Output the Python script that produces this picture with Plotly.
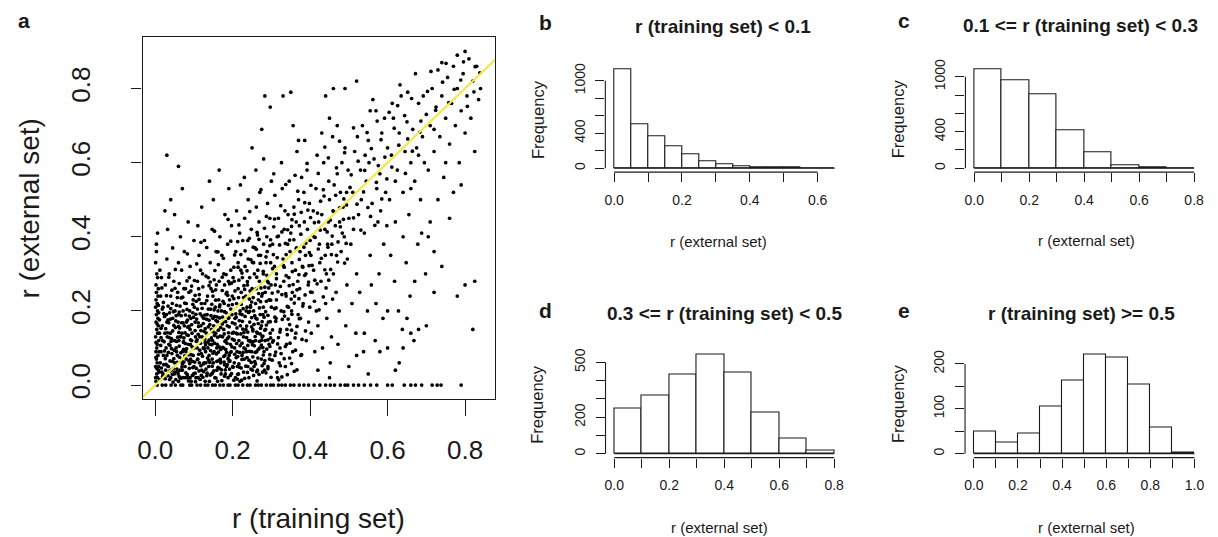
import plotly.graph_objects as go

# ---------------- data ----------------
# panel a: r(training) vs r(external), by region
pts_col0 = [(0.002,0.01),(0.004,0.03),(0.001,0.05),(0.006,0.02),(0.003,0.07),(0.008,0.04),(0.002,0.09),(0.005,0.11),
            (0.001,0.13),(0.007,0.08),(0.004,0.15),(0.002,0.17),(0.009,0.12),(0.003,0.19),(0.006,0.14),(0.001,0.21),
            (0.005,0.06),(0.008,0.16),(0.002,0.23),(0.004,0.10),(0.007,0.18),(0.003,0.25),(0.001,0.02),(0.006,0.20),
            (0.009,0.05),(0.002,0.27),(0.005,0.22),(0.004,0.30),(0.008,0.26),(0.001,0.33),(0.006,0.29),(0.003,0.36),
            (0.007,0.24),(0.010,0.09),(0.002,0.115),(0.005,0.165),(0.011,0.14),(0.004,0.045),(0.009,0.195),(0.003,0.38),
            (0.012,0.31),(0.006,0.41),(0.002,0.075),(0.010,0.035),(0.008,0.215)]
pts_row0 = [(0.005,0.0),(0.018,0.0),(0.027,0.0),(0.041,0.0),(0.052,0.0),(0.066,0.0),(0.071,0.0),(0.089,0.0),(0.094,0.0),
            (0.108,0.0),(0.117,0.0),(0.129,0.0),(0.136,0.0),(0.148,0.0),(0.155,0.0),(0.167,0.0),(0.176,0.0),(0.188,0.0),
            (0.193,0.0),(0.207,0.0),(0.214,0.0),(0.226,0.0),(0.238,0.0),(0.245,0.0),(0.259,0.0),(0.266,0.0),(0.274,0.0),
            (0.287,0.0),(0.298,0.0),(0.305,0.0),(0.318,0.0),(0.327,0.0),(0.336,0.0),(0.349,0.0),(0.358,0.0),(0.372,0.0),
            (0.384,0.0),(0.396,0.0),(0.41,0.0),(0.425,0.0),(0.44,0.0),(0.452,0.0),(0.463,0.0),(0.478,0.0),(0.49,0.0),
            (0.497,0.0),(0.512,0.0),(0.525,0.0),(0.54,0.0),(0.556,0.0),(0.572,0.0),(0.6,0.0),(0.612,0.0),(0.643,0.0),
            (0.66,0.0),(0.672,0.0),(0.688,0.0),(0.715,0.0),(0.728,0.0),(0.738,0.0),(0.79,0.0)]
pts_x00 = [(0.02,0.03),(0.03,0.08),(0.025,0.14),(0.04,0.02),(0.035,0.11),(0.05,0.06),(0.045,0.18),(0.06,0.01),(0.055,0.09),
           (0.07,0.04),(0.065,0.13),(0.08,0.07),(0.075,0.16),(0.09,0.02),(0.085,0.11),(0.1,0.05),(0.095,0.14),(0.02,0.21),
           (0.03,0.17),(0.04,0.24),(0.05,0.12),(0.06,0.19),(0.07,0.09),(0.08,0.22),(0.09,0.15),(0.1,0.1),(0.022,0.055),
           (0.033,0.025),(0.047,0.045),(0.058,0.035),(0.068,0.065),(0.078,0.02),(0.088,0.045),(0.098,0.08),(0.028,0.1),
           (0.038,0.065),(0.052,0.155),(0.062,0.105),(0.072,0.2),(0.082,0.135),(0.092,0.18),(0.026,0.27),(0.036,0.3),
           (0.048,0.28),(0.058,0.25),(0.068,0.31),(0.078,0.26),(0.088,0.29),(0.098,0.23),(0.03,0.34),(0.045,0.37),
           (0.06,0.33),(0.075,0.36),(0.09,0.32),(0.032,0.42),(0.05,0.46),(0.065,0.4),(0.04,0.5),(0.07,0.53),(0.025,0.47),
           (0.085,0.44),(0.06,0.59),(0.03,0.62),(0.1,0.39),(0.055,0.215),(0.083,0.175),(0.043,0.085),(0.073,0.115),
           (0.093,0.01),(0.018,0.16),(0.015,0.09),(0.017,0.035),(0.014,0.24),(0.016,0.29),(0.053,0.015),(0.063,0.075),
           (0.087,0.065),(0.097,0.195),(0.037,0.195),(0.067,0.235),(0.077,0.05),(0.042,0.125),(0.024,0.185)]
pts_x10 = [(0.105,0.02),(0.11,0.07),(0.115,0.13),(0.12,0.04),(0.125,0.18),(0.13,0.09),(0.135,0.24),(0.14,0.01),(0.145,0.15),
           (0.15,0.06),(0.155,0.21),(0.16,0.11),(0.165,0.28),(0.17,0.03),(0.175,0.17),(0.18,0.08),(0.185,0.25),(0.19,0.13),
           (0.195,0.31),(0.2,0.05),(0.108,0.1),(0.118,0.16),(0.128,0.22),(0.138,0.05),(0.148,0.12),(0.158,0.27),(0.168,0.07),
           (0.178,0.22),(0.188,0.02),(0.198,0.19),(0.112,0.26),(0.122,0.3),(0.132,0.14),(0.142,0.33),(0.152,0.09),(0.162,0.2),
           (0.172,0.35),(0.182,0.12),(0.192,0.23),(0.103,0.17),(0.113,0.35),(0.127,0.39),(0.137,0.29),(0.147,0.42),
           (0.157,0.36),(0.167,0.4),(0.177,0.3),(0.187,0.38),(0.197,0.43),(0.12,0.48),(0.15,0.5),(0.18,0.46),(0.14,0.55),
           (0.11,0.43),(0.19,0.53),(0.165,0.58),(0.106,0.045),(0.116,0.015),(0.126,0.06),(0.136,0.1),(0.146,0.03),
           (0.156,0.14),(0.166,0.045),(0.176,0.1),(0.186,0.16),(0.196,0.09),(0.109,0.205),(0.119,0.085),(0.129,0.115),
           (0.139,0.175),(0.149,0.24),(0.159,0.04),(0.169,0.155),(0.179,0.055),(0.189,0.28),(0.199,0.14),(0.133,0.025),
           (0.153,0.185),(0.173,0.255),(0.193,0.065),(0.123,0.265),(0.143,0.205),(0.163,0.325),(0.183,0.195)]
pts_x20 = [(0.205,0.1),(0.21,0.22),(0.215,0.03),(0.22,0.16),(0.225,0.29),(0.23,0.07),(0.235,0.2),(0.24,0.34),(0.245,0.12),
           (0.25,0.26),(0.255,0.05),(0.26,0.18),(0.265,0.31),(0.27,0.1),(0.275,0.24),(0.28,0.38),(0.285,0.15),(0.29,0.28),
           (0.295,0.07),(0.3,0.21),(0.208,0.36),(0.218,0.41),(0.228,0.13),(0.238,0.27),(0.248,0.42),(0.258,0.37),
           (0.268,0.44),(0.278,0.19),(0.288,0.4),(0.298,0.33),(0.212,0.05),(0.222,0.25),(0.232,0.32),(0.242,0.02),
           (0.252,0.15),(0.262,0.09),(0.272,0.35),(0.282,0.04),(0.292,0.17),(0.206,0.18),(0.216,0.12),(0.226,0.39),
           (0.236,0.09),(0.246,0.21),(0.256,0.3),(0.266,0.23),(0.276,0.13),(0.286,0.33),(0.296,0.45),(0.21,0.47),
           (0.24,0.5),(0.27,0.52),(0.23,0.56),(0.26,0.58),(0.29,0.49),(0.25,0.64),(0.28,0.61),(0.22,0.54),(0.3,0.55),
           (0.275,0.69),(0.283,0.78),(0.297,0.75),(0.204,0.28),(0.214,0.33),(0.224,0.08),(0.234,0.15),(0.244,0.29),
           (0.254,0.2),(0.264,0.04),(0.274,0.16),(0.284,0.25),(0.294,0.11),(0.219,0.2),(0.239,0.39),(0.259,0.12),
           (0.279,0.3),(0.299,0.27),(0.231,0.45),(0.261,0.48)]
pts_x30 = [(0.305,0.12),(0.31,0.27),(0.315,0.4),(0.32,0.06),(0.325,0.2),(0.33,0.34),(0.335,0.47),(0.34,0.15),(0.345,0.29),
           (0.35,0.41),(0.355,0.09),(0.36,0.24),(0.365,0.37),(0.37,0.5),(0.375,0.18),(0.38,0.32),(0.385,0.44),(0.39,0.12),
           (0.395,0.27),(0.4,0.39),(0.308,0.32),(0.318,0.45),(0.328,0.53),(0.338,0.24),(0.348,0.36),(0.358,0.48),
           (0.368,0.28),(0.378,0.56),(0.388,0.35),(0.398,0.49),(0.312,0.18),(0.322,0.1),(0.332,0.28),(0.342,0.38),
           (0.352,0.2),(0.362,0.31),(0.372,0.43),(0.382,0.22),(0.392,0.58),(0.306,0.57),(0.326,0.6),(0.346,0.55),
           (0.366,0.63),(0.386,0.66),(0.356,0.7),(0.336,0.05),(0.376,0.08),(0.396,0.17),(0.316,0.02),(0.35,0.79),
           (0.33,0.78),(0.37,0.66),(0.384,0.52),(0.303,0.38),(0.343,0.46),(0.363,0.14),(0.393,0.42),(0.313,0.23),
           (0.353,0.33),(0.373,0.26)]
pts_x40 = [(0.405,0.25),(0.41,0.4),(0.415,0.53),(0.42,0.16),(0.425,0.33),(0.43,0.46),(0.435,0.6),(0.44,0.22),(0.445,0.38),
           (0.45,0.5),(0.455,0.13),(0.46,0.3),(0.465,0.43),(0.47,0.57),(0.475,0.2),(0.48,0.36),(0.485,0.48),(0.49,0.64),
           (0.495,0.27),(0.5,0.45),(0.408,0.47),(0.418,0.62),(0.428,0.28),(0.438,0.42),(0.448,0.55),(0.458,0.67),
           (0.468,0.35),(0.478,0.52),(0.488,0.4),(0.498,0.58),(0.412,0.09),(0.432,0.1),(0.452,0.06),(0.472,0.11),
           (0.492,0.16),(0.402,0.35),(0.422,0.44),(0.442,0.3),(0.462,0.54),(0.482,0.6),(0.45,0.72),(0.47,0.7),(0.43,0.68),
           (0.49,0.8),(0.44,0.78),(0.46,0.8),(0.416,0.2),(0.436,0.51),(0.456,0.38),(0.476,0.44),(0.496,0.34)]
pts_x50 = [(0.505,0.38),(0.51,0.52),(0.515,0.63),(0.52,0.3),(0.525,0.46),(0.53,0.58),(0.535,0.7),(0.54,0.41),(0.545,0.55),
           (0.55,0.66),(0.555,0.35),(0.56,0.49),(0.565,0.61),(0.57,0.74),(0.575,0.44),(0.58,0.57),(0.585,0.68),(0.59,0.38),
           (0.595,0.52),(0.6,0.64),(0.508,0.22),(0.518,0.14),(0.528,0.25),(0.538,0.09),(0.548,0.2),(0.558,0.27),
           (0.568,0.12),(0.578,0.3),(0.588,0.18),(0.598,0.43),(0.512,0.42),(0.532,0.5),(0.552,0.6),(0.572,0.53),
           (0.592,0.72),(0.522,0.67),(0.542,0.62),(0.562,0.77),(0.582,0.47),(0.52,0.82),(0.555,0.74)]
pts_x60 = [(0.605,0.5),(0.61,0.62),(0.615,0.72),(0.62,0.44),(0.625,0.58),(0.63,0.68),(0.635,0.78),(0.64,0.52),(0.645,0.63),
           (0.65,0.71),(0.655,0.46),(0.66,0.6),(0.665,0.69),(0.67,0.55),(0.675,0.64),(0.68,0.76),(0.685,0.5),(0.69,0.67),
           (0.695,0.6),(0.7,0.73),(0.608,0.35),(0.618,0.28),(0.628,0.2),(0.638,0.15),(0.648,0.33),(0.658,0.24),
           (0.668,0.12),(0.678,0.38),(0.688,0.41),(0.698,0.3),(0.612,0.76),(0.632,0.81),(0.652,0.79),(0.672,0.84),
           (0.692,0.78),(0.62,0.55),(0.64,0.4),(0.66,0.53),(0.68,0.62),(0.6,0.1),(0.63,0.06),(0.66,0.14)]
pts_x70 = [(0.705,0.58),(0.71,0.7),(0.715,0.8),(0.72,0.63),(0.725,0.75),(0.73,0.85),(0.735,0.67),(0.74,0.78),(0.745,0.56),
           (0.75,0.72),(0.755,0.83),(0.76,0.65),(0.765,0.76),(0.77,0.86),(0.775,0.7),(0.78,0.8),(0.785,0.6),(0.79,0.74),
           (0.795,0.84),(0.8,0.68),(0.805,0.78),(0.81,0.88),(0.815,0.72),(0.82,0.82),(0.825,0.63),(0.83,0.86),
           (0.835,0.77),(0.84,0.8),(0.71,0.44),(0.72,0.36),(0.74,0.32),(0.73,0.5),(0.76,0.45),(0.78,0.24),(0.8,0.27),
           (0.82,0.15),(0.825,0.28),(0.77,0.52),(0.79,0.54),(0.8,0.9),(0.78,0.89),(0.74,0.87),(0.75,0.6),(0.72,0.69),
           (0.705,0.4)]
pts_outliers = [(0.42,0.04),(0.45,0.02),(0.5,0.05),(0.55,0.03),(0.58,0.09),(0.62,0.04),(0.64,0.1),(0.54,0.14),(0.6,0.2),
                (0.65,0.18),(0.68,0.15),(0.7,0.16),(0.57,0.22),(0.67,0.28),(0.72,0.25),(0.52,0.08)]
pts_core = [(0.013,0.06),(0.019,0.12),(0.023,0.02),(0.029,0.19),(0.034,0.05),(0.039,0.14),(0.044,0.22),(0.049,0.03),
            (0.054,0.1),(0.059,0.17),(0.064,0.04),(0.069,0.14),(0.074,0.26),(0.079,0.09),(0.084,0.02),(0.089,0.2),
            (0.094,0.12),(0.099,0.03),(0.104,0.13),(0.109,0.28),(0.114,0.06),(0.119,0.22),(0.124,0.1),(0.129,0.01),
            (0.134,0.19),(0.139,0.08),(0.144,0.26),(0.149,0.18),(0.154,0.02),(0.159,0.1),(0.164,0.23),(0.169,0.06),
            (0.174,0.13),(0.179,0.27),(0.184,0.05),(0.189,0.18),(0.194,0.11),(0.199,0.24),(0.204,0.06),(0.209,0.14),
            (0.214,0.26),(0.219,0.01),(0.224,0.19),(0.229,0.1),(0.234,0.24),(0.239,0.05),(0.244,0.17),(0.249,0.09),
            (0.254,0.33),(0.259,0.22),(0.264,0.14),(0.269,0.28),(0.274,0.07),(0.279,0.21),(0.284,0.12),(0.289,0.36),
            (0.294,0.23),(0.021,0.08),(0.031,0.13),(0.041,0.04),(0.051,0.2),(0.061,0.12),(0.071,0.02),(0.081,0.17),
            (0.091,0.07),(0.101,0.21),(0.111,0.02),(0.121,0.13),(0.131,0.06),(0.141,0.11),(0.151,0.16),(0.161,0.01),
            (0.171,0.2),(0.181,0.03),(0.191,0.08),(0.201,0.29),(0.211,0.09),(0.221,0.31),(0.241,0.12),(0.251,0.04),
            (0.261,0.26),(0.271,0.19),(0.281,0.09),(0.291,0.05),(0.027,0.04),(0.057,0.08),(0.087,0.25),(0.117,0.31),
            (0.147,0.07),(0.177,0.15),(0.207,0.02),(0.237,0.21),(0.267,0.35),(0.297,0.14),(0.313,0.3),(0.323,0.15),
            (0.333,0.42),(0.344,0.21),(0.354,0.25),(0.364,0.44),(0.374,0.36),(0.389,0.3),(0.399,0.21),(0.409,0.31),
            (0.424,0.38),(0.439,0.35),(0.447,0.44),(0.459,0.47),(0.467,0.25),(0.483,0.41),(0.494,0.52),(0.309,0.08),
            (0.339,0.11),(0.369,0.19),(0.403,0.14),(0.443,0.18)]
pts_band_a = [(0.012,0.015),(0.031,0.052),(0.046,0.008),(0.057,0.061),(0.083,0.028),(0.097,0.047),(0.112,0.083),
              (0.123,0.021),(0.138,0.067),(0.151,0.038),(0.163,0.089),(0.172,0.012),(0.186,0.055),(0.197,0.031),
              (0.209,0.074),(0.222,0.046),(0.231,0.018),(0.243,0.091),(0.257,0.063),(0.268,0.029),(0.279,0.081),
              (0.291,0.044),(0.302,0.067),(0.314,0.035),(0.026,0.071),(0.038,0.038),(0.062,0.023),(0.076,0.079),
              (0.089,0.058),(0.104,0.009),(0.118,0.052),(0.131,0.043),(0.143,0.093),(0.157,0.019),(0.169,0.063),
              (0.181,0.041),(0.193,0.087),(0.203,0.013),(0.216,0.057),(0.227,0.088),(0.238,0.034),(0.252,0.076),
              (0.263,0.011),(0.276,0.052),(0.288,0.097),(0.299,0.021),(0.311,0.089),(0.323,0.052),(0.016,0.046),
              (0.049,0.094),(0.069,0.049),(0.093,0.082),(0.127,0.098),(0.147,0.051),(0.177,0.077),(0.213,0.029),
              (0.247,0.043),(0.283,0.066),(0.319,0.014),(0.034,0.088),(0.059,0.03),(0.086,0.011),(0.109,0.069),
              (0.134,0.032),(0.162,0.048),(0.191,0.064),(0.224,0.069),(0.254,0.026),(0.286,0.033),(0.333,0.071),
              (0.341,0.028),(0.352,0.058),(0.366,0.041),(0.378,0.082)]
pts_band_b = [(0.014,0.107),(0.027,0.152),(0.041,0.118),(0.053,0.173),(0.066,0.131),(0.078,0.189),(0.091,0.109),
              (0.103,0.147),(0.116,0.192),(0.128,0.124),(0.141,0.163),(0.153,0.113),(0.166,0.181),(0.178,0.138),
              (0.191,0.157),(0.204,0.121),(0.217,0.174),(0.229,0.142),(0.241,0.196),(0.253,0.117),(0.266,0.166),
              (0.278,0.132),(0.291,0.188),(0.303,0.149),(0.316,0.111),(0.328,0.177),(0.341,0.136),(0.353,0.191),
              (0.366,0.158),(0.379,0.123),(0.022,0.193),(0.036,0.128),(0.048,0.161),(0.061,0.142),(0.073,0.117),
              (0.087,0.158),(0.099,0.183),(0.111,0.137),(0.124,0.166),(0.136,0.116),(0.149,0.144),(0.161,0.171),
              (0.174,0.102),(0.187,0.126),(0.199,0.168),(0.212,0.138),(0.224,0.113),(0.236,0.159),(0.249,0.182),
              (0.262,0.143),(0.274,0.108),(0.287,0.162),(0.298,0.127),(0.311,0.172),(0.322,0.143),(0.336,0.104),
              (0.347,0.163),(0.361,0.127),(0.372,0.179),(0.388,0.146),(0.033,0.176),(0.068,0.168),(0.106,0.118),
              (0.144,0.187),(0.182,0.171),(0.219,0.192),(0.258,0.131),(0.296,0.104),(0.334,0.186),(0.058,0.129)]
pts_band_c = [(0.021,0.223),(0.043,0.256),(0.064,0.213),(0.082,0.281),(0.103,0.242),(0.121,0.207),(0.139,0.268),
              (0.156,0.229),(0.173,0.291),(0.189,0.215),(0.206,0.254),(0.222,0.218),(0.238,0.279),(0.253,0.236),
              (0.269,0.208),(0.283,0.264),(0.298,0.229),(0.313,0.287),(0.327,0.244),(0.341,0.212),(0.356,0.271),
              (0.371,0.233),(0.386,0.296),(0.401,0.251),(0.418,0.273),(0.434,0.238),(0.448,0.283),(0.035,0.291),
              (0.057,0.236),(0.076,0.221),(0.094,0.267),(0.113,0.231),(0.131,0.294),(0.148,0.253),(0.166,0.211),
              (0.183,0.246),(0.199,0.217),(0.216,0.283),(0.231,0.258),(0.246,0.214),(0.262,0.291),(0.277,0.247),
              (0.292,0.276),(0.308,0.206),(0.323,0.266),(0.338,0.295),(0.351,0.232),(0.366,0.257),(0.381,0.213),
              (0.396,0.278),(0.411,0.226),(0.152,0.284),(0.192,0.273),(0.228,0.236),(0.272,0.225)]
pts_band_d = [(0.052,0.312),(0.083,0.354),(0.107,0.327),(0.133,0.371),(0.154,0.309),(0.176,0.342),(0.195,0.388),
              (0.214,0.318),(0.232,0.362),(0.251,0.331),(0.268,0.393),(0.286,0.346),(0.303,0.314),(0.321,0.378),
              (0.338,0.352),(0.354,0.306),(0.372,0.339),(0.389,0.383),(0.405,0.323),(0.421,0.367),(0.438,0.311),
              (0.455,0.352),(0.472,0.386),(0.489,0.329),(0.118,0.385),(0.162,0.359),(0.205,0.351),(0.243,0.396),
              (0.279,0.307),(0.315,0.344),(0.347,0.391),(0.381,0.318),(0.413,0.398),(0.446,0.372),(0.224,0.302),
              (0.261,0.366),(0.296,0.376),(0.331,0.322),(0.364,0.368),(0.398,0.357)]
pts_band_e = [(0.153,0.415),(0.188,0.447),(0.216,0.432),(0.244,0.468),(0.263,0.412),(0.287,0.455),(0.306,0.427),
              (0.324,0.484),(0.342,0.419),(0.359,0.461),(0.376,0.407),(0.394,0.472),(0.411,0.438),(0.427,0.496),
              (0.444,0.413),(0.461,0.468),(0.478,0.427),(0.494,0.486),(0.512,0.451),(0.531,0.418),(0.549,0.479),
              (0.567,0.431),(0.585,0.502),(0.273,0.527),(0.309,0.512),(0.337,0.541),(0.368,0.523),(0.402,0.539),
              (0.434,0.527),(0.466,0.512),(0.503,0.533),(0.538,0.521),(0.571,0.547),(0.353,0.446),(0.386,0.492),
              (0.419,0.464),(0.452,0.445),(0.487,0.502),(0.521,0.488),(0.556,0.455)]
pts_band_f = [(0.361,0.566),(0.392,0.598),(0.421,0.571),(0.447,0.613),(0.468,0.586),(0.489,0.627),(0.506,0.567),
              (0.524,0.604),(0.541,0.579),(0.558,0.638),(0.576,0.592),(0.593,0.615),(0.611,0.588),(0.629,0.647),
              (0.646,0.571),(0.664,0.631),(0.683,0.682),(0.476,0.658),(0.512,0.694),(0.547,0.681),(0.583,0.662),
              (0.617,0.693),(0.652,0.664),(0.438,0.642),(0.598,0.556)]
pts_band_g = [(0.573,0.712),(0.604,0.736),(0.626,0.754),(0.644,0.727),(0.662,0.773),(0.686,0.712),(0.703,0.792),
              (0.724,0.741),(0.742,0.817),(0.758,0.762),(0.772,0.798),(0.789,0.823),(0.806,0.752),(0.823,0.791),
              (0.838,0.842),(0.712,0.846),(0.751,0.868),(0.796,0.872),(0.826,0.859)]
pts_band_h = [(0.015,0.128),(0.024,0.092),(0.037,0.015),(0.045,0.146),(0.056,0.043),(0.067,0.187),(0.074,0.062),
              (0.085,0.134),(0.096,0.026),(0.107,0.178),(0.113,0.038),(0.126,0.145),(0.135,0.073),(0.146,0.218),
              (0.158,0.084),(0.168,0.132),(0.179,0.024),(0.187,0.242),(0.198,0.103),(0.206,0.165),(0.218,0.048),
              (0.227,0.206),(0.236,0.128),(0.248,0.061),(0.257,0.187),(0.266,0.096),(0.277,0.035),(0.285,0.198),
              (0.296,0.082),(0.018,0.205),(0.029,0.241),(0.039,0.178),(0.051,0.261),(0.063,0.154),(0.071,0.237),
              (0.081,0.098),(0.092,0.254),(0.102,0.062),(0.114,0.244),(0.125,0.036),(0.133,0.228),(0.145,0.127),
              (0.156,0.257),(0.165,0.103),(0.175,0.226),(0.184,0.088),(0.195,0.205),(0.205,0.083),(0.215,0.236),
              (0.226,0.151),(0.237,0.074),(0.245,0.254),(0.256,0.106),(0.267,0.247),(0.275,0.121),(0.287,0.226),
              (0.297,0.171),(0.011,0.176),(0.033,0.213),(0.044,0.064),(0.055,0.118),(0.066,0.087),(0.077,0.141),
              (0.088,0.186),(0.095,0.103),(0.106,0.226),(0.117,0.113),(0.128,0.189),(0.137,0.157),(0.148,0.033),
              (0.157,0.174),(0.167,0.216),(0.178,0.062),(0.189,0.141),(0.197,0.275),(0.208,0.192),(0.219,0.106),
              (0.229,0.268),(0.239,0.143),(0.249,0.224),(0.259,0.057),(0.271,0.138),(0.281,0.183),(0.293,0.262),
              (0.303,0.116),(0.312,0.208),(0.325,0.085),(0.337,0.247),(0.348,0.113),(0.359,0.221),(0.017,0.262),
              (0.038,0.107),(0.062,0.274),(0.079,0.033),(0.101,0.282),(0.122,0.078),(0.142,0.278),(0.163,0.148),
              (0.183,0.298),(0.203,0.233),(0.223,0.013),(0.243,0.232),(0.263,0.178),(0.283,0.148),(0.302,0.248),
              (0.318,0.128),(0.332,0.198),(0.347,0.073),(0.362,0.094),(0.028,0.056),(0.047,0.198),(0.072,0.168),
              (0.097,0.218),(0.118,0.147),(0.137,0.205),(0.159,0.064),(0.174,0.183),(0.192,0.043),(0.211,0.154),
              (0.233,0.097),(0.252,0.146),(0.273,0.262),(0.291,0.122),(0.309,0.183),(0.327,0.022),(0.343,0.178),
              (0.359,0.037)]
pts_band_i = [(0.203,0.318),(0.221,0.352),(0.237,0.308),(0.253,0.372),(0.271,0.328),(0.288,0.296),(0.305,0.352),
              (0.318,0.402),(0.333,0.318),(0.346,0.268),(0.358,0.392),(0.371,0.298),(0.384,0.372),(0.397,0.322),
              (0.412,0.283),(0.426,0.418),(0.441,0.262),(0.457,0.402),(0.471,0.332),(0.486,0.447),(0.308,0.448),
              (0.327,0.413),(0.352,0.428),(0.377,0.466),(0.401,0.452),(0.429,0.342),(0.453,0.312),(0.476,0.478),
              (0.213,0.387),(0.247,0.338),(0.282,0.423),(0.317,0.252),(0.352,0.148),(0.387,0.243),(0.423,0.203),
              (0.458,0.232),(0.493,0.382),(0.264,0.405),(0.298,0.392),(0.336,0.382)]
pts_band_j = [(0.019,0.023),(0.032,0.141),(0.042,0.098),(0.054,0.187),(0.065,0.018),(0.073,0.096),(0.084,0.156),
              (0.096,0.064),(0.105,0.191),(0.115,0.094),(0.124,0.057),(0.132,0.178),(0.142,0.027),(0.153,0.134),
              (0.164,0.066),(0.173,0.165),(0.185,0.113),(0.194,0.026),(0.202,0.142),(0.213,0.077),(0.225,0.172),
              (0.234,0.051),(0.246,0.117),(0.255,0.164),(0.265,0.073),(0.278,0.101),(0.023,0.117),(0.035,0.168),
              (0.048,0.071),(0.06,0.158),(0.07,0.057),(0.082,0.204),(0.091,0.122),(0.103,0.032),(0.112,0.158),
              (0.121,0.186),(0.13,0.108),(0.141,0.061),(0.152,0.203),(0.161,0.129),(0.171,0.041),(0.182,0.096),
              (0.19,0.182),(0.201,0.048),(0.21,0.112),(0.221,0.138),(0.232,0.185),(0.242,0.067),(0.251,0.109),
              (0.262,0.036),(0.272,0.153),(0.015,0.153),(0.026,0.017),(0.04,0.206),(0.05,0.035),(0.062,0.197),
              (0.074,0.127),(0.086,0.082),(0.094,0.163),(0.108,0.122),(0.119,0.026),(0.129,0.152),(0.139,0.121),
              (0.149,0.086),(0.159,0.184),(0.169,0.096),(0.18,0.118),(0.188,0.071),(0.199,0.124),(0.209,0.183),
              (0.218,0.088),(0.228,0.035),(0.239,0.107),(0.249,0.157),(0.258,0.088),(0.269,0.118),(0.281,0.058),
              (0.044,0.029),(0.078,0.112),(0.111,0.168),(0.146,0.109),(0.179,0.198),(0.212,0.016),(0.244,0.199),
              (0.276,0.171)]
identity_line = [-0.1, 1.0]          # y = x reference line

scatter_ticks = [0.0, 0.2, 0.4, 0.6, 0.8]
scatter_ticktext = ["0.0", "0.2", "0.4", "0.6", "0.8"]

# histograms (bin edges & frequencies)
b_edges = [0.0, 0.05, 0.10, 0.15, 0.20, 0.25, 0.30, 0.35, 0.40, 0.45, 0.50, 0.55, 0.60, 0.65]
b_counts = [1132, 502, 366, 245, 158, 75, 49, 26, 15, 7, 6, 1, 0]
c_edges = [0.0, 0.1, 0.2, 0.3, 0.4, 0.5, 0.6, 0.7, 0.8]
c_counts = [1083, 961, 809, 412, 170, 36, 10, 2]
d_edges = [0.0, 0.1, 0.2, 0.3, 0.4, 0.5, 0.6, 0.7, 0.8]
d_counts = [247, 316, 433, 543, 444, 224, 81, 16]
e_edges = [0.0, 0.1, 0.2, 0.3, 0.4, 0.5, 0.6, 0.7, 0.8, 0.9, 1.0]
e_counts = [50, 25, 45, 106, 164, 221, 214, 153, 58, 2]

b_xticks = [0.0, 0.1, 0.2, 0.3, 0.4, 0.5, 0.6]
b_xtext = ["0.0", "", "0.2", "", "0.4", "", "0.6"]
cd_xticks = [0.0, 0.1, 0.2, 0.3, 0.4, 0.5, 0.6, 0.7, 0.8]
cd_xtext = ["0.0", "", "0.2", "", "0.4", "", "0.6", "", "0.8"]
e_xticks = [0.0, 0.1, 0.2, 0.3, 0.4, 0.5, 0.6, 0.7, 0.8, 0.9, 1.0]
e_xtext = ["0.0", "", "0.2", "", "0.4", "", "0.6", "", "0.8", "", "1.0"]
bc_yticks = [0, 200, 400, 600, 800, 1000]
bc_ytext = ["0", "", "400", "", "", "1000"]
d_yticks = [0, 100, 200, 300, 400, 500]
d_ytext = ["0", "", "200", "", "", "500"]
e_yticks = [0, 50, 100, 150, 200]
e_ytext = ["0", "", "100", "", "200"]

titles = {"b": "r (training set) < 0.1", "c": "0.1 <= r (training set) < 0.3",
          "d": "0.3 <= r (training set) < 0.5", "e": "r (training set) >= 0.5"}

# ---------------- figure ----------------
W, H = 1218, 537
FONT = "Liberation Sans, Arial, sans-serif"
INK = "#1a1a1a"

def px(x):
    return x / W

def py(y):
    return 1 - y / H

all_pts = (pts_col0 + pts_row0 + pts_x00 + pts_core + pts_band_a + pts_band_b + pts_band_c + pts_band_d +
           pts_band_e + pts_band_f + pts_band_g + pts_band_h + pts_band_i + pts_band_j + pts_x10 + pts_x20 +
           pts_x30 + pts_x40 + pts_x50 + pts_x60 + pts_x70 + pts_outliers)
train_r = [p[0] for p in all_pts]
external_r = [p[1] for p in all_pts]

fig = go.Figure()
fig.add_trace(go.Scatter(x=train_r, y=external_r, mode="markers", xaxis="x", yaxis="y",
                         marker=dict(color="black", size=3.7, line=dict(width=0)), hoverinfo="skip"))
fig.add_trace(go.Scatter(x=identity_line, y=identity_line, mode="lines", xaxis="x", yaxis="y",
                         line=dict(color="#efe94a", width=2.2), hoverinfo="skip"))

hists = [("b", b_edges, b_counts, "x2", "y2"), ("c", c_edges, c_counts, "x3", "y3"),
         ("d", d_edges, d_counts, "x4", "y4"), ("e", e_edges, e_counts, "x5", "y5")]
shapes = []
for key, edges, counts, xa, ya in hists:
    mids = [(edges[i] + edges[i + 1]) / 2 for i in range(len(counts))]
    widths = [edges[i + 1] - edges[i] for i in range(len(counts))]
    fig.add_trace(go.Bar(x=mids, y=counts, width=widths, xaxis=xa, yaxis=ya,
                         marker=dict(color="white", line=dict(color=INK, width=1.1)), hoverinfo="skip"))
    # baseline under the bars (zero-height bins show as a flat line)
    shapes.append(dict(type="line", xref=xa, yref=ya, x0=edges[0], x1=edges[-1], y0=0, y1=0,
                       line=dict(color=INK, width=1.1)))

def hist_axes(edges, counts, xdom, ydom, xt, xtt, yt, ytt, anchor_x, anchor_y):
    span = edges[-1] - edges[0]
    mx = max(counts)
    xa = dict(domain=xdom, range=[edges[0] - 0.04 * span, edges[-1] + 0.04 * span], anchor=anchor_y,
              showgrid=False, zeroline=False, showline=False, ticks="outside", ticklen=9, tickwidth=1.1,
              tickcolor=INK, tickvals=xt, ticktext=xtt, tickfont=dict(size=14, family=FONT, color=INK),
              ticklabelstandoff=6, fixedrange=True)
    ya = dict(domain=ydom, range=[-0.04 * mx, 1.04 * mx], anchor=anchor_x,
              showgrid=False, zeroline=False, showline=False, ticks="outside", ticklen=9, tickwidth=1.1,
              tickcolor=INK, tickvals=yt, ticktext=ytt, tickangle=-90,
              tickfont=dict(size=14, family=FONT, color=INK), ticklabelstandoff=5, fixedrange=True)
    return xa, ya

top_y = [py(168), py(60)]
bot_y = [py(456.7), py(348.4)]
left_x = [px(603.3), px(842.6)]
right_x = [px(965.2), px(1203.8)]

x2, y2 = hist_axes(b_edges, b_counts, left_x, top_y, b_xticks, b_xtext, bc_yticks, bc_ytext, "x2", "y2")
x3, y3 = hist_axes(c_edges, c_counts, right_x, top_y, cd_xticks, cd_xtext, bc_yticks, bc_ytext, "x3", "y3")
x4, y4 = hist_axes(d_edges, d_counts, [px(603.5), px(842.1)], bot_y, cd_xticks, cd_xtext, d_yticks, d_ytext, "x4", "y4")
x5, y5 = hist_axes(e_edges, e_counts, [px(964.8), px(1204.2)], bot_y, e_xticks, e_xtext, e_yticks, e_ytext, "x5", "y5")

# R-style axis lines spanning first..last tick
for xa, ya, xt, yt in [("x2", "y2", b_xticks, bc_yticks), ("x3", "y3", cd_xticks, bc_yticks),
                       ("x4", "y4", cd_xticks, d_yticks), ("x5", "y5", e_xticks, e_yticks)]:
    shapes.append(dict(type="line", xref=xa, yref=ya + " domain", x0=xt[0], x1=xt[-1], y0=0, y1=0,
                       line=dict(color=INK, width=1.1)))
    shapes.append(dict(type="line", xref=xa + " domain", yref=ya, x0=0, x1=0, y0=yt[0], y1=yt[-1],
                       line=dict(color=INK, width=1.1)))

fig.update_layout(
    width=W, height=H, margin=dict(l=0, r=0, t=0, b=0),
    paper_bgcolor="white", plot_bgcolor="white", showlegend=False, bargap=0,
    font=dict(family=FONT, color=INK),
    xaxis=dict(domain=[px(138.3), px(492.3)], range=[-0.0326, 0.877], anchor="y",
               showgrid=False, zeroline=False, showline=True, mirror=True, linecolor=INK, linewidth=1.3,
               ticks="outside", ticklen=16, tickwidth=1.3, tickcolor=INK,
               tickvals=scatter_ticks, ticktext=scatter_ticktext,
               tickfont=dict(size=26, family=FONT, color=INK), ticklabelstandoff=12, fixedrange=True),
    yaxis=dict(domain=[py(397.3), py(31.7)], range=[-0.0373, 0.938], anchor="x",
               showgrid=False, zeroline=False, showline=True, mirror=True, linecolor=INK, linewidth=1.3,
               ticks="outside", ticklen=10, tickwidth=1.3, tickcolor=INK,
               tickvals=scatter_ticks, ticktext=scatter_ticktext, tickangle=-90,
               tickfont=dict(size=26, family=FONT, color=INK), ticklabelstandoff=31, fixedrange=True),
    xaxis2=x2, yaxis2=y2, xaxis3=x3, yaxis3=y3, xaxis4=x4, yaxis4=y4, xaxis5=x5, yaxis5=y5,
    shapes=shapes,
)

ann = []
def text(x, y, s, size, bold=False, angle=0):
    ann.append(dict(x=px(x), y=py(y), xref="paper", yref="paper", text=("<b>%s</b>" % s) if bold else s,
                    showarrow=False, xanchor="center", yanchor="middle", textangle=angle,
                    font=dict(size=size, family=FONT, color=INK)))

# panel a labels
text(19, 15, "a", 21, bold=True)
text(315, 518, "r (training set)", 28)
text(25, 204, "r (external set)", 28, angle=-90)
# panel letters & titles
text(543, 17, "b", 21, bold=True)
text(903, 15, "c", 21, bold=True)
text(543, 308, "d", 21, bold=True)
text(903, 308, "e", 21, bold=True)
text(722, 21, titles["b"], 19, bold=True)
text(1081, 20, titles["c"], 19, bold=True)
text(723, 311, titles["d"], 19, bold=True)
text(1082, 311, titles["e"], 19, bold=True)
# histogram axis titles
for cx, cy in [(717, 238), (1087, 237), (718, 527), (1087, 527)]:
    text(cx, cy, "r (external set)", 15)
for cx, cy in [(535, 115), (897, 114), (535, 403), (897, 402)]:
    text(cx, cy, "Frequency", 16.5, angle=-90)

fig.update_layout(annotations=ann)
fig.write_html("out.html")
